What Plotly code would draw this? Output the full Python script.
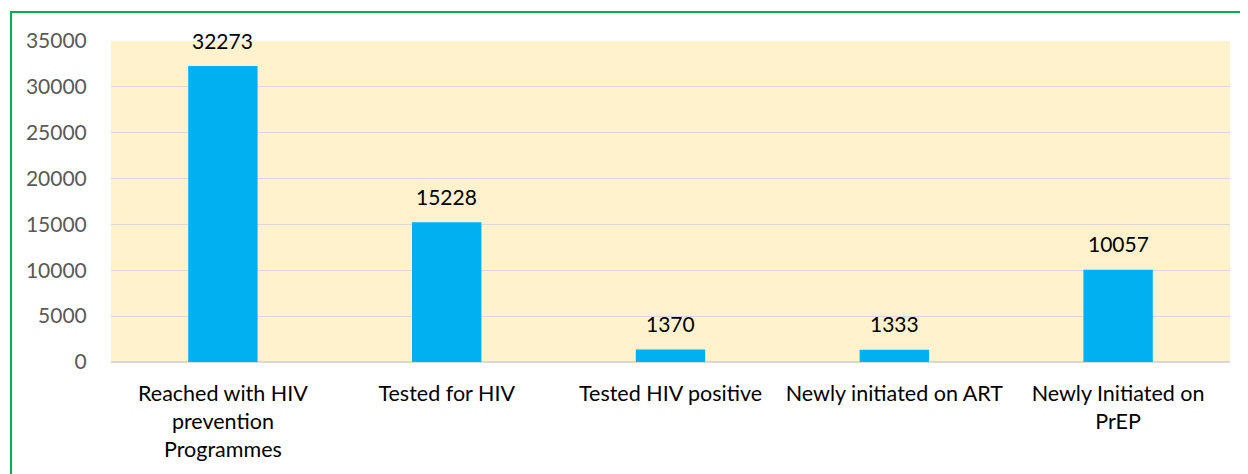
import plotly.graph_objects as go

categories = ["Reached with HIV<br>prevention<br>Programmes", "Tested for HIV", "Tested HIV positive",
              "Newly initiated on ART", "Newly Initiated on<br>PrEP"]
values = [32273, 15228, 1370, 1333, 10057]
y_ticks = [0, 5000, 10000, 15000, 20000, 25000, 30000, 35000]

W, H = 1248, 474
OFF = 8  # page body margin
L, R, T, B = 111 - OFF, 1230 - OFF, 41 - OFF, 362 - OFF

fig = go.Figure()
fig.add_trace(go.Bar(x=categories, y=values, marker=dict(color="#00B0F0", line=dict(width=0)),
                     hoverinfo="x+y"))

for c, v in zip(categories, values):
    fig.add_annotation(x=c, y=v, text=str(v), showarrow=False, yanchor="middle", yshift=26,
                       font=dict(family="Lato", size=21, color="#000000"))

fig.update_layout(
    width=W, height=H,
    margin=dict(l=L, r=W - R, t=T, b=H - B, autoexpand=False),
    paper_bgcolor="white",
    plot_bgcolor="#FFF2CC",
    bargap=0.69,
    showlegend=False,
    font=dict(family="Lato", size=21, color="#000000"),
)
fig.update_xaxes(showgrid=False, showline=False, ticks="outside", ticklen=12, tickcolor="rgba(0,0,0,0)",
                 tickfont=dict(family="Lato", size=21.5, color="#000000"), tickangle=0, automargin=False)
fig.update_yaxes(range=[0, 35000], tickvals=y_ticks, tickformat="d", showgrid=True, gridcolor="#D9D9D9",
                 gridwidth=1, zeroline=True, zerolinecolor="#D9D9D9", zerolinewidth=1.5,
                 ticks="outside", ticklen=19, tickcolor="rgba(0,0,0,0)", automargin=False,
                 tickfont=dict(family="Lato", size=21, color="#595959"))

# outer green border
pw, ph = R - L, B - T
def px(xp): return (xp - L) / pw
def py(yp): return (B - yp) / ph
fig.add_shape(type="rect", xref="paper", yref="paper", x0=px(11 - OFF), x1=px(1270), y0=py(500), y1=py(12 - OFF),
              line=dict(color="#00B050", width=2), fillcolor="rgba(0,0,0,0)", layer="below")

fig.write_html("out.html")
